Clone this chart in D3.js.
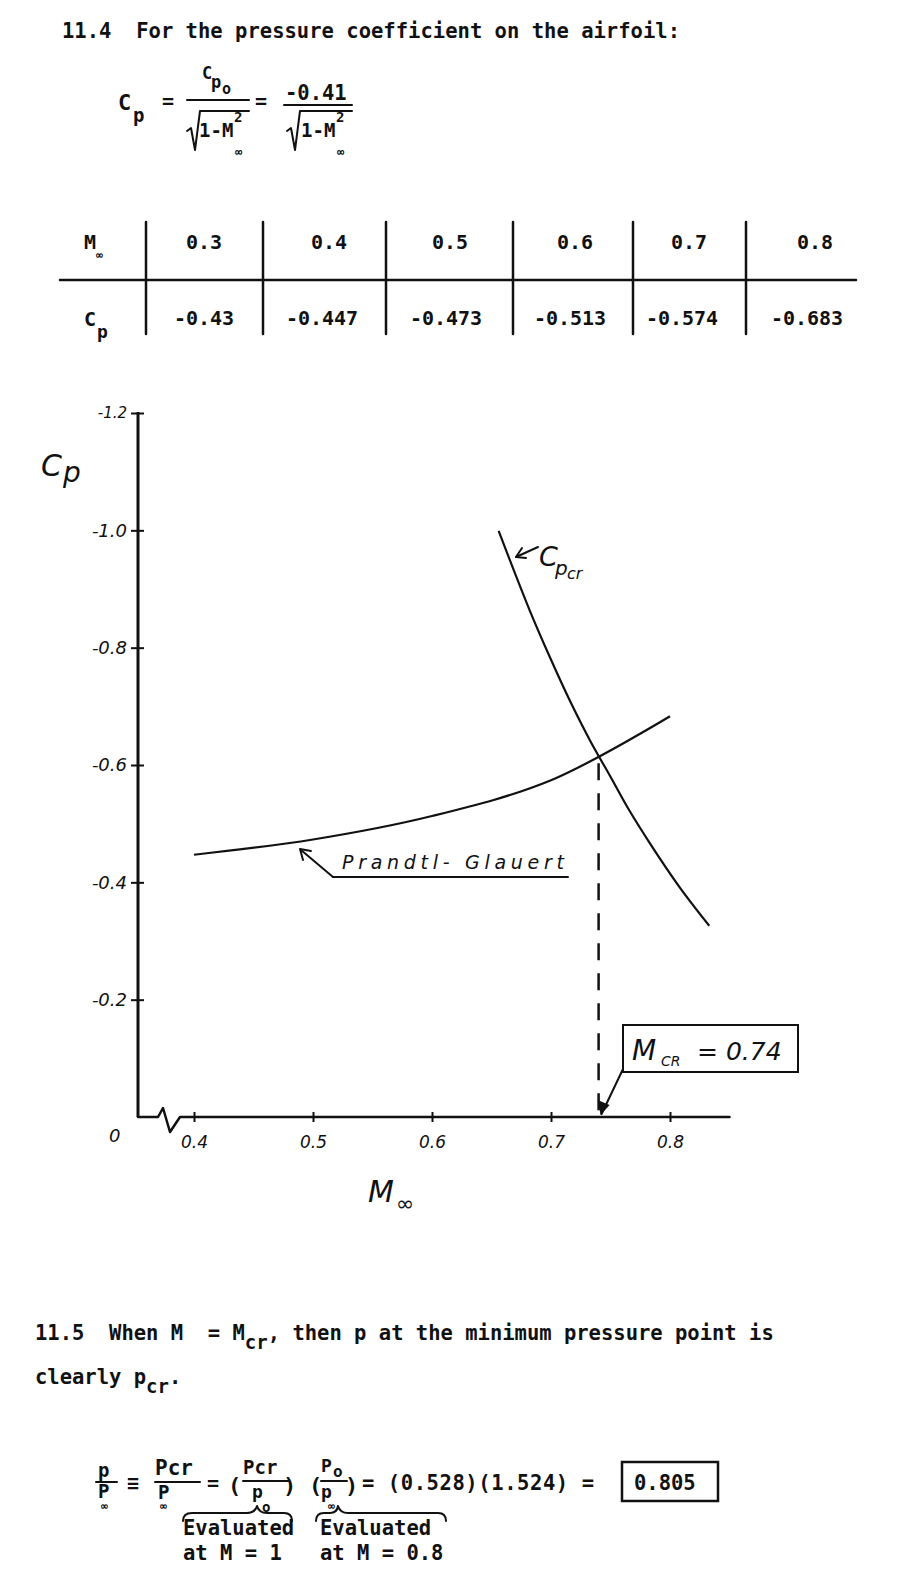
<!DOCTYPE html>
<html>
<head>
<meta charset="utf-8">
<script src="https://cdn.jsdelivr.net/npm/d3@7"></script>
<style>
  html, body { margin: 0; padding: 0; background: #fff; }
  svg { display: block; }
  text { white-space: pre; }
  .tw { font-family: "DejaVu Sans Mono", monospace; font-weight: bold; fill: #111; }
  .hw { font-family: "DejaVu Sans", sans-serif; font-style: italic; fill: #111; }
</style>
</head>
<body>
<script>
// ---------------- data ----------------
const tableMach = [0.3, 0.4, 0.5, 0.6, 0.7, 0.8];
const tableMachLabels = ["0.3", "0.4", "0.5", "0.6", "0.7", "0.8"];
const tableCp = [-0.43, -0.447, -0.473, -0.513, -0.574, -0.683];
const tableCpLabels = ["-0.43", "-0.447", "-0.473", "-0.513", "-0.574", "-0.683"];

// Prandtl-Glauert curve plotted from the table (M = 0.4 .. 0.8)
const pgMach = [0.4, 0.5, 0.6, 0.7, 0.8];
const pgCp = [-0.447, -0.473, -0.513, -0.574, -0.683];

// Critical pressure coefficient curve
const cpcrMach = [0.656, 0.682, 0.699, 0.716, 0.733, 0.750, 0.766, 0.783, 0.808, 0.833];
const cpcrCp = [-0.999, -0.864, -0.784, -0.709, -0.641, -0.580, -0.522, -0.467, -0.392, -0.326];

const mcr = 0.74;
const mcrCp = -0.61;

const yTicks = [-1.2, -1.0, -0.8, -0.6, -0.4, -0.2];
const yTickLabels = ["-1.2", "-1.0", "-0.8", "-0.6", "-0.4", "-0.2"];
const xTicks = [0.4, 0.5, 0.6, 0.7, 0.8];
const xTickLabels = ["0.4", "0.5", "0.6", "0.7", "0.8"];
const xAxisEnd = 0.85;

// ---------------- setup ----------------
const W = 908, H = 1576;
const svg = d3.select("body").append("svg").attr("width", W).attr("height", H);
svg.append("rect").attr("width", W).attr("height", H).attr("fill", "#fff");

function txt(cls, x, y, s, size, extra) {
  const t = svg.append("text").attr("class", cls).attr("x", x).attr("y", y)
    .attr("font-size", size).text(s);
  if (extra) extra(t);
  return t;
}
function ln(x1, y1, x2, y2, w) {
  return svg.append("line").attr("x1", x1).attr("y1", y1).attr("x2", x2).attr("y2", y2)
    .attr("stroke", "#111").attr("stroke-width", w || 2).attr("stroke-linecap", "round");
}
function pth(d, w) {
  return svg.append("path").attr("d", d).attr("fill", "none").attr("stroke", "#111")
    .attr("stroke-width", w || 2).attr("stroke-linejoin", "round").attr("stroke-linecap", "round");
}

// ---------------- heading 11.4 ----------------
txt("tw", 62, 38, "11.4  For the pressure coefficient on the airfoil:", 20.5, t => t.attr("textLength", 618));

// formula C_p = C_po / sqrt(1-M^2) = -0.41 / sqrt(1-M^2)
txt("tw", 118, 110, "C", 22);
txt("tw", 133, 122, "p", 19);
txt("tw", 162, 108, "=", 20);
// fraction 1
ln(187, 100, 249, 100, 2);
txt("tw", 202, 79, "C", 17);
txt("tw", 211, 88, "p", 17);
txt("tw", 222, 94, "o", 15);
pth("M187,131 L191,128 L195,150 L200,111 L249,111", 2);
txt("tw", 199, 137, "1-M", 19);
txt("tw", 234, 122, "2", 14);
txt("tw", 235, 156, "∞", 12);
txt("tw", 255, 108, "=", 20);
// fraction 2
txt("tw", 285, 100, "-0.41", 20.5);
ln(284, 105, 352, 105, 2);
pth("M287,131 L291,128 L295,150 L300,111 L352,111", 2);
txt("tw", 301, 137, "1-M", 19);
txt("tw", 336, 122, "2", 14);
txt("tw", 337, 156, "∞", 12);

// ---------------- table ----------------
const colCentersTop = [204, 329, 450, 575, 689, 815];
const colCentersBot = [204, 322, 446, 570, 682, 807];
const vLines = [146, 263, 386, 513, 633, 746];
ln(60, 280, 856, 280, 2.5);
vLines.forEach(v => ln(v, 222, v, 334, 2.5));
txt("tw", 84, 249, "M", 20);
txt("tw", 96, 259, "∞", 11);
txt("tw", 84, 326, "C", 20);
txt("tw", 97, 338, "p", 18);
svg.selectAll(".tm").data(tableMach).enter().append("text")
  .attr("class", "tw").attr("font-size", 20)
  .attr("x", (d, i) => colCentersTop[i]).attr("y", 249)
  .attr("text-anchor", "middle").text((d, i) => tableMachLabels[i]);
svg.selectAll(".tc").data(tableCp).enter().append("text")
  .attr("class", "tw").attr("font-size", 20)
  .attr("x", (d, i) => colCentersBot[i]).attr("y", 325)
  .attr("text-anchor", "middle").text((d, i) => tableCpLabels[i]);

// ---------------- chart ----------------
const x = d3.scaleLinear().domain([0.4, 0.8]).range([194, 670]);
const y = d3.scaleLinear().domain([0, -1.2]).range([1117, 413]);
const originX = 138;

// y axis
const yAxis = svg.append("g").attr("transform", `translate(${originX},0)`)
  .call(d3.axisLeft(y).tickValues(yTicks).tickSize(7).tickSizeOuter(0).tickPadding(4)
    .tickFormat((d, i) => yTickLabels[i]));
yAxis.select(".domain").attr("stroke", "#111").attr("stroke-width", 3)
  .attr("d", `M0,${y(0)}V${y(-1.2) - 1}`);
yAxis.selectAll(".tick line").attr("stroke", "#111").attr("stroke-width", 2);
yAxis.selectAll(".tick").append("line").attr("x1", 0).attr("x2", 6)
  .attr("stroke", "#111").attr("stroke-width", 2);
yAxis.selectAll(".tick text")
  .attr("font-size", d => d === -1.2 ? 15 : 18)
  .attr("font-family", "DejaVu Sans").attr("font-style", "italic").attr("fill", "#111");

// x axis
const xAxis = svg.append("g").attr("transform", `translate(0,${y(0)})`)
  .call(d3.axisBottom(x).tickValues(xTicks).tickSize(5).tickSizeOuter(0).tickPadding(14)
    .tickFormat((d, i) => xTickLabels[i]));
xAxis.select(".domain").remove();
xAxis.selectAll(".tick line").attr("stroke", "#111").attr("stroke-width", 2).attr("y1", -5);
xAxis.selectAll(".tick text").attr("font-size", 17)
  .attr("font-family", "DejaVu Sans").attr("font-style", "italic").attr("fill", "#111");
const y0 = y(0);
pth(`M${originX},${y0} H${originX + 20} L${originX + 25},${y0 - 9} L${originX + 32},${y0 + 15} L${originX + 42},${y0} H${x(xAxisEnd)}`, 2.5);

// origin label
txt("hw", 109, 1142, "0", 18);

// axis titles
txt("hw", 41, 476, "C", 30);
txt("hw", 63, 482, "p", 28);
txt("hw", 368, 1202, "M", 30);
txt("hw", 396, 1211, "∞", 22);

// curves
const line = d3.line().x(d => x(d[0])).y(d => y(d[1])).curve(d3.curveCatmullRom.alpha(0.5));
svg.append("path").datum(d3.zip(pgMach, pgCp)).attr("d", line)
  .attr("fill", "none").attr("stroke", "#111").attr("stroke-width", 2.2);
svg.append("path").datum(d3.zip(cpcrMach, cpcrCp)).attr("d", line)
  .attr("fill", "none").attr("stroke", "#111").attr("stroke-width", 2.2);

// dashed Mcr line
svg.append("line").attr("x1", x(mcr)).attr("x2", x(mcr))
  .attr("y1", y(mcrCp) + 4).attr("y2", y0 - 6)
  .attr("stroke", "#111").attr("stroke-width", 2.5).attr("stroke-dasharray", "17,13");

// Cp_cr label
ln(538, 547, 516, 557, 2);
pth("M522,548 L516,557 L526,558", 2);
txt("hw", 539, 566, "C", 27);
txt("hw", 555, 575, "p", 20);
txt("hw", 567, 579, "cr", 16);

// Prandtl-Glauert label
txt("hw", 342, 869, "Prandtl- Glauert", 19, t => t.attr("textLength", 222));
ln(333, 877, 568, 877, 2);
ln(333, 877, 301, 850, 2);
pth("M303,860 L300,849 L311,851", 2);

// Mcr box
svg.append("rect").attr("x", 623).attr("y", 1025).attr("width", 175).attr("height", 47)
  .attr("fill", "none").attr("stroke", "#111").attr("stroke-width", 2);
txt("hw", 632, 1060, "M", 28);
txt("hw", 661, 1066, "CR", 14);
txt("hw", 697, 1060, "= 0.74", 25);
ln(623, 1069, x(mcr) + 3, y0 - 3, 2);
svg.append("path").attr("d", `M${x(mcr) + 2},${y0 - 2} L${x(mcr) - 1},${y0 - 17} L${x(mcr) + 11},${y0 - 12} Z`)
  .attr("fill", "#111");

// ---------------- 11.5 ----------------
const l1 = svg.append("text").attr("class", "tw").attr("x", 35).attr("y", 1340).attr("font-size", 20.5);
l1.append("tspan").text("11.5  When M  = M");
l1.append("tspan").attr("dy", 9).attr("font-size", 19).text("cr");
l1.append("tspan").attr("dy", -9).text(", then p at the minimum pressure point is");

const l2 = svg.append("text").attr("class", "tw").attr("x", 35).attr("y", 1384).attr("font-size", 20.5);
l2.append("tspan").text("clearly p");
l2.append("tspan").attr("dy", 9).attr("font-size", 19).text("cr");
l2.append("tspan").attr("dy", -9).text(".");

// formula p/p_inf
txt("tw", 98, 1477, "p", 19);
ln(96, 1482, 117, 1482, 2);
txt("tw", 98, 1498, "P", 19);
txt("tw", 101, 1510, "∞", 11);
txt("tw", 127, 1490, "≡", 20);
txt("tw", 155, 1475, "Pcr", 21);
ln(155, 1482, 200, 1482, 2);
txt("tw", 158, 1499, "P", 19);
txt("tw", 160, 1510, "∞", 11);
txt("tw", 207, 1490, "=", 20);
txt("tw", 228, 1493, "(", 22);
txt("tw", 243, 1474, "Pcr", 19);
ln(243, 1481, 289, 1481, 2);
txt("tw", 252, 1498, "p", 18);
txt("tw", 262, 1512, "o", 14);
txt("tw", 283, 1493, ")", 22);
txt("tw", 309, 1493, "(", 22);
txt("tw", 321, 1472, "P", 18);
txt("tw", 333, 1477, "o", 16);
ln(321, 1481, 347, 1481, 2);
txt("tw", 321, 1498, "p", 18);
txt("tw", 328, 1510, "∞", 11);
txt("tw", 345, 1493, ")", 22);
txt("tw", 362, 1490, "= (0.528)(1.524) =", 20.5, t => t.attr("textLength", 232));
svg.append("rect").attr("x", 622).attr("y", 1462).attr("width", 96).attr("height", 39)
  .attr("fill", "none").attr("stroke", "#111").attr("stroke-width", 2.5);
txt("tw", 634, 1490, "0.805", 20.5);

// braces
pth("M183,1521 Q183,1513 192,1513 L247,1513 Q255,1513 257,1506 Q259,1513 267,1513 L284,1513 Q292,1513 292,1521", 2);
pth("M316,1521 Q316,1513 324,1513 L330,1513 Q337,1513 338,1506 Q340,1513 348,1513 L438,1513 Q446,1513 446,1521", 2);
txt("tw", 183, 1535, "Evaluated", 20.5);
txt("tw", 183, 1560, "at M = 1", 20.5);
txt("tw", 320, 1535, "Evaluated", 20.5);
txt("tw", 320, 1560, "at M = 0.8", 20.5);
</script>
</body>
</html>
